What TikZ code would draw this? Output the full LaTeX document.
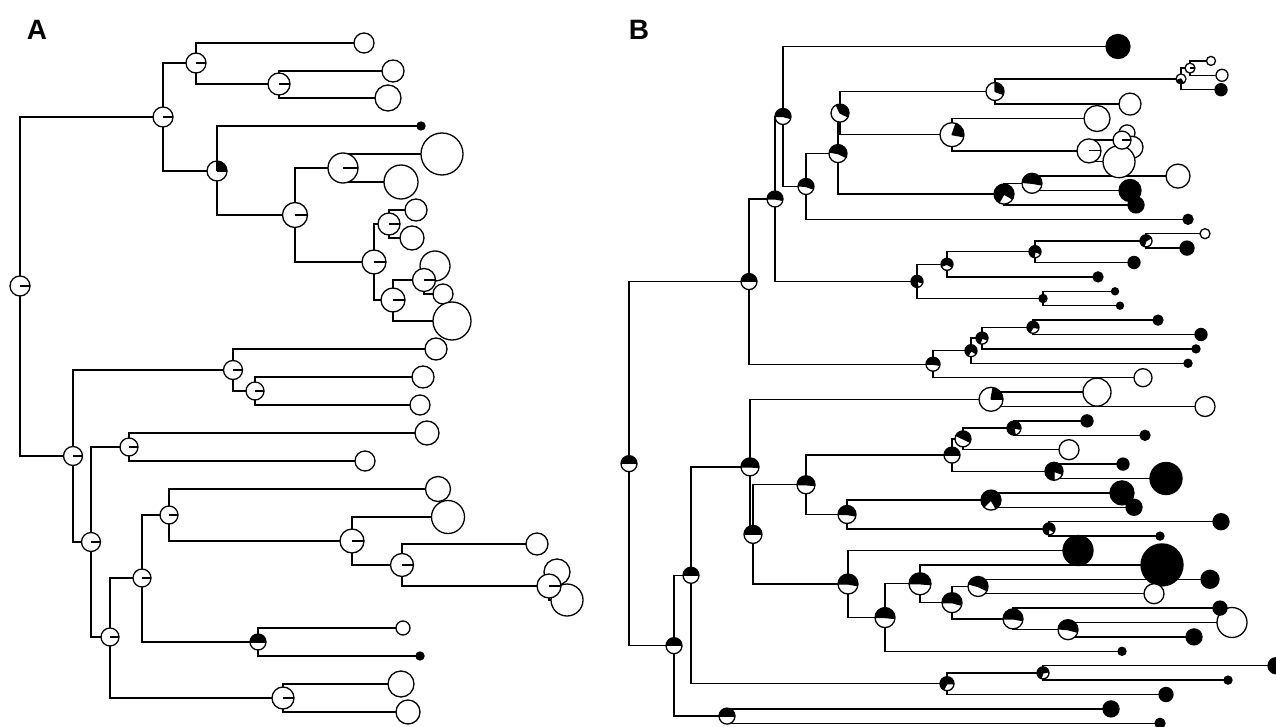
\documentclass[tikz,border=0pt]{standalone}
\usepackage{fontspec}
\setmainfont{Liberation Sans}
\tikzset{branch/.style={line width=1.3pt, line cap=rect}, lab/.style={font=\fontsize{28}{30}\selectfont\bfseries, inner sep=0pt}}
\newcommand\pieN[4]{%
  \fill[white] (#1) circle[radius=#2pt];
  \fill[black] (#1) -- ++(#3:#2pt) arc[start angle=#3,end angle=#4,radius=#2pt] -- cycle;
  \draw[line width=1.2pt] (#1) -- ++(#3:#2pt) (#1) -- ++(#4:#2pt);
  \draw[line width=1.3pt] (#1) circle[radius=#2pt];}
\newcommand\leafW[2]{\draw[line width=1.3pt, fill=white] (#1) circle[radius=#2pt];}
\newcommand\leafB[2]{\draw[line width=1.3pt, fill=black] (#1) circle[radius=#2pt];}
\begin{document}
\begin{tikzpicture}[x=1pt,y=-1pt]
\useasboundingbox (0,0) rectangle (1276,727);
\fill[white] (0,0) rectangle (1276,727);
\node[lab] (labA) at (37,30) {A};
\node[lab] (labB) at (639,30) {B};
% ---------- Panel A coordinates ----------
\coordinate (aR) at (20,286);
\coordinate (a1) at (163,117);
\coordinate (a2) at (196,63);
\coordinate (a3) at (279,84);
\coordinate (a4) at (217,171);
\coordinate (a5) at (295,215);
\coordinate (a6) at (343,168);
\coordinate (a7) at (374,262);
\coordinate (a8) at (389,224);
\coordinate (a9) at (393,300);
\coordinate (a10) at (424,280);
\coordinate (a11) at (73,456);
\coordinate (a12) at (233,370);
\coordinate (a13) at (255,391);
\coordinate (a14) at (91,542);
\coordinate (a15) at (129,447);
\coordinate (a16) at (110,637);
\coordinate (a17) at (142,578);
\coordinate (a18) at (169,515);
\coordinate (a19) at (352,541);
\coordinate (a20) at (402,565);
\coordinate (a21) at (549,586);
\coordinate (a22) at (258,642);
\coordinate (a23) at (283,698);
\coordinate (L1) at (364,43);
\coordinate (L2) at (393,71);
\coordinate (L3) at (388,98);
\coordinate (L4) at (421,126);
\coordinate (L5) at (442,154);
\coordinate (L6) at (401,182);
\coordinate (L7) at (416,210);
\coordinate (L8) at (412,238);
\coordinate (L9) at (435,266);
\coordinate (L10) at (443,294);
\coordinate (L11) at (452,321);
\coordinate (L12) at (436,349);
\coordinate (L13) at (423,377);
\coordinate (L14) at (420,405);
\coordinate (L15) at (427,433);
\coordinate (L16) at (365,461);
\coordinate (L17) at (438,489);
\coordinate (L18) at (448,517);
\coordinate (L19) at (537,544);
\coordinate (L20) at (557,572);
\coordinate (L21) at (567,600);
\coordinate (L22) at (403,628);
\coordinate (L23) at (420,656);
\coordinate (L24) at (401,684);
\coordinate (L25) at (408,712);
% ---------- Panel B coordinates ----------
\coordinate (bR) at (629,463.7);
\coordinate (b1) at (749,281.6);
\coordinate (b2) at (775,199);
\coordinate (b3) at (783,116.5);
\coordinate (b4) at (806,186.5);
\coordinate (b5) at (838,153.6);
\coordinate (b6) at (840,113.1);
\coordinate (b7) at (995,91.5);
\coordinate (b8) at (1181,78.9);
\coordinate (b9) at (1190,68.1);
\coordinate (b10) at (952,134.7);
\coordinate (b11) at (1089,150.9);
\coordinate (b12) at (1122,140.1);
\coordinate (b13) at (1004,194.1);
\coordinate (b14) at (1032,183.3);
\coordinate (b15) at (917,281.4);
\coordinate (b16) at (947,264.3);
\coordinate (b17) at (1035,251.7);
\coordinate (b18) at (1146,240.9);
\coordinate (b19) at (1043,298.5);
\coordinate (b20) at (933,364.2);
\coordinate (b21) at (971,350.7);
\coordinate (b22) at (982,338.1);
\coordinate (b23) at (1033,327.3);
\coordinate (b24) at (674,645.7);
\coordinate (b25) at (691,575.3);
\coordinate (b26) at (750,466.9);
\coordinate (b27) at (991,399.3);
\coordinate (b28) at (753,534.4);
\coordinate (b29) at (806,484.8);
\coordinate (b30) at (952,455.1);
\coordinate (b31) at (963,438.9);
\coordinate (b32) at (1014,428.1);
\coordinate (b33) at (1054,471.3);
\coordinate (b34) at (847,514.5);
\coordinate (b35) at (991,500.1);
\coordinate (b36) at (1049,528.9);
\coordinate (b37) at (848,584);
\coordinate (b38) at (885,617.6);
\coordinate (b39) at (920,583.8);
\coordinate (b40) at (952,602.7);
\coordinate (b41) at (978,586.5);
\coordinate (b42) at (1013,618.9);
\coordinate (b43) at (1068,629.7);
\coordinate (b44) at (947,683.7);
\coordinate (b45) at (1043,672.9);
\coordinate (b46) at (727,716.1);
\foreach \i/\x in {1/1118,2/1211,3/1222,4/1221,5/1130,6/1097,7/1127,8/1132,9/1119,10/1178,
  11/1130,12/1136,13/1188,14/1205,15/1187,16/1134,17/1098,18/1115,19/1120,20/1158,
  21/1201,22/1196,23/1188,24/1143,25/1097,26/1205,27/1087,28/1145,29/1069,30/1123,
  31/1166,32/1122,33/1134,34/1221,35/1160,36/1078,37/1162,38/1210,39/1154,40/1220,
  41/1232,42/1194,43/1122,44/1276,45/1228,46/1166,47/1111,48/1160}
  {\coordinate (M\i) at (\x,{46.5+14.4*(\i-1)});}
% ---------- branches ----------
\foreach \p/\c in {aR/a1,aR/a11,a1/a2,a1/a4,a2/L1,a2/a3,a3/L2,a3/L3,a4/L4,a4/a5,
  a5/a6,a5/a7,a6/L5,a6/L6,a7/a8,a7/a9,a8/L7,a8/L8,a9/a10,a9/L11,a10/L9,a10/L10,
  a11/a12,a11/a14,a12/L12,a12/a13,a13/L13,a13/L14,a14/a15,a14/a16,a15/L15,a15/L16,
  a16/a17,a16/a23,a17/a18,a17/a22,a18/L17,a18/a19,a19/L18,a19/a20,a20/L19,a20/a21,
  a21/L20,a21/L21,a22/L22,a22/L23,a23/L24,a23/L25}
  {\draw[branch] (\p) |- (\c);}
\foreach \p/\c in {bR/b1,bR/b24,b1/b2,b1/b20,b2/b3,b2/b15,b3/M1,b3/b4,b4/b5,b4/M13,
  b5/b6,b5/b13,b6/b7,b6/b10,b7/b8,b7/M5,b8/b9,b8/M4,b9/M2,b9/M3,b10/M6,b10/b11,
  b11/b12,b11/M9,b12/M7,b12/M8,b13/b14,b13/M12,b14/M10,b14/M11,b15/b16,b15/b19,
  b16/b17,b16/M17,b17/b18,b17/M16,b18/M14,b18/M15,b19/M18,b19/M19,b20/b21,b20/M24,
  b21/b22,b21/M23,b22/b23,b22/M22,b23/M20,b23/M21,b24/b25,b24/b46,b25/b26,b25/b44,
  b26/b27,b26/b28,b27/M25,b27/M26,b28/b29,b28/b37,b29/b30,b29/b34,b30/b31,b30/b33,
  b31/b32,b31/M29,b32/M27,b32/M28,b33/M30,b33/M31,b34/b35,b34/b36,b35/M32,b35/M33,
  b36/M34,b36/M35,b37/M36,b37/b38,b38/b39,b38/M43,b39/M37,b39/b40,b40/b41,b40/b42,
  b41/M38,b41/M39,b42/M40,b42/b43,b43/M41,b43/M42,b44/b45,b44/M46,b45/M44,b45/M45,
  b46/M47,b46/M48}
  {\draw[branch] (\p) |- (\c);}
% ---------- tips, panel A ----------
\leafW{L1}{10} \leafW{L2}{11} \leafW{L3}{13} \leafB{L4}{4} \leafW{L5}{21}
\leafW{L6}{17} \leafW{L7}{11} \leafW{L8}{12} \leafW{L9}{15} \leafW{L10}{10}
\leafW{L11}{19} \leafW{L12}{11} \leafW{L13}{11} \leafW{L14}{10} \leafW{L15}{12}
\leafW{L16}{10} \leafW{L17}{12.5} \leafW{L18}{16.5} \leafW{L19}{11} \leafW{L20}{13}
\leafW{L21}{16} \leafW{L22}{7} \leafB{L23}{4} \leafW{L24}{13} \leafW{L25}{12}
% ---------- tips, panel B ----------
\leafB{M1}{12} \leafW{M2}{4.5} \leafW{M3}{6} \leafB{M4}{6} \leafW{M5}{11}
\leafW{M6}{13} \leafW{M7}{8} \leafW{M8}{11} \leafW{M9}{16} \leafW{M10}{12}
\leafB{M11}{11} \leafB{M12}{8} \leafB{M13}{5} \leafW{M14}{5} \leafB{M15}{7}
\leafB{M16}{6} \leafB{M17}{5} \leafB{M18}{3.5} \leafB{M19}{3.5} \leafB{M20}{5}
\leafB{M21}{6} \leafB{M22}{4} \leafB{M23}{4} \leafW{M24}{9} \leafW{M25}{14}
\leafW{M26}{10} \leafB{M27}{6} \leafB{M28}{5} \leafW{M29}{10} \leafB{M30}{6}
\leafB{M31}{16} \leafB{M32}{12} \leafB{M33}{8} \leafB{M34}{8} \leafB{M35}{4}
\leafB{M36}{15} \leafB{M37}{21} \leafB{M38}{9} \leafW{M39}{10} \leafW{M41}{15}
\leafB{M40}{7} \leafB{M42}{8} \leafB{M43}{4} \leafB{M44}{8} \leafB{M45}{4}
\leafB{M46}{7} \leafB{M47}{8} \leafB{M48}{5}
% ---------- node pies, panel A ----------
\pieN{aR}{10}{0}{0} \pieN{a1}{10}{0}{0} \pieN{a2}{10}{0}{0} \pieN{a3}{11}{0}{0}
\pieN{a4}{10}{0}{90} \pieN{a5}{12.5}{0}{0} \pieN{a6}{15}{0}{0} \pieN{a7}{12}{0}{0}
\pieN{a8}{11}{0}{0} \pieN{a9}{12}{0}{0} \pieN{a10}{11.5}{0}{0} \pieN{a11}{9.5}{0}{0}
\pieN{a12}{9.5}{0}{0} \pieN{a13}{9}{0}{0} \pieN{a14}{9.5}{0}{0} \pieN{a15}{9}{0}{0}
\pieN{a16}{9}{0}{0} \pieN{a17}{9}{0}{0} \pieN{a18}{9}{0}{0} \pieN{a19}{12}{0}{0}
\pieN{a20}{11.5}{0}{0} \pieN{a21}{12}{0}{0} \pieN{a22}{8}{0}{180} \pieN{a23}{11}{0}{0}
% ---------- node pies, panel B ----------
\pieN{bR}{8}{0}{180} \pieN{b1}{8}{0}{180} \pieN{b2}{8}{-10}{180} \pieN{b3}{8}{-15}{180}
\pieN{b4}{8}{-20}{175} \pieN{b5}{9}{-25}{170} \pieN{b6}{9}{-25}{115} \pieN{b7}{9}{-20}{90}
\pieN{b8}{5}{200}{300} \pieN{b9}{5}{0}{0} \pieN{b10}{12}{-10}{70} \pieN{b11}{12}{0}{0}
\pieN{b12}{9}{0}{0} \pieN{b13}{10}{-30}{240} \pieN{b14}{10}{-10}{175} \pieN{b15}{6}{-15}{280}
\pieN{b16}{6}{-30}{200} \pieN{b17}{6}{-20}{260} \pieN{b18}{6}{30}{250} \pieN{b19}{4}{-20}{300}
\pieN{b20}{7}{-10}{180} \pieN{b21}{6}{-30}{240} \pieN{b22}{6}{-20}{250} \pieN{b23}{6}{-10}{240}
\pieN{b24}{8}{0}{180} \pieN{b25}{8}{0}{180} \pieN{b26}{9}{-5}{180} \pieN{b27}{12}{0}{80}
\pieN{b28}{9}{0}{180} \pieN{b29}{9}{-5}{180} \pieN{b30}{8}{0}{180} \pieN{b31}{8}{-25}{155}
\pieN{b32}{7}{-10}{280} \pieN{b33}{9}{-20}{270} \pieN{b34}{9}{-10}{180} \pieN{b35}{10}{-60}{225}
\pieN{b36}{6}{-30}{260} \pieN{b37}{10}{-10}{180} \pieN{b38}{10}{-5}{180} \pieN{b39}{11}{-5}{180}
\pieN{b40}{10}{-15}{180} \pieN{b41}{10}{-25}{165} \pieN{b42}{10}{-10}{180} \pieN{b43}{10}{-15}{175}
\pieN{b44}{7}{0}{240} \pieN{b45}{6}{10}{250} \pieN{b46}{8}{0}{180}
\end{tikzpicture}
\end{document}
